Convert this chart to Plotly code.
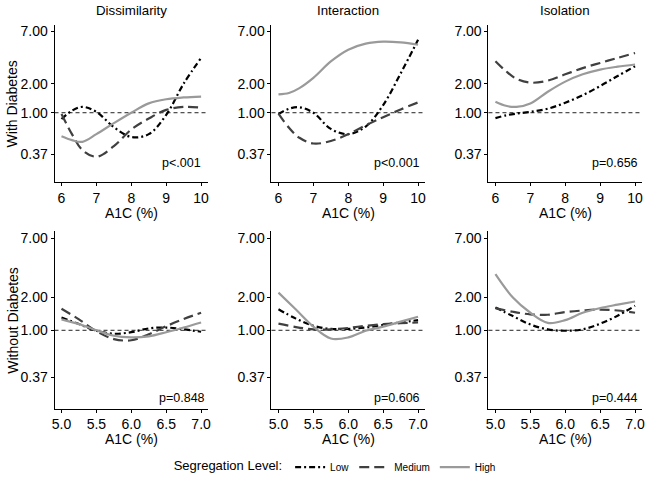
import plotly.graph_objects as go

# ---------------- data ----------------
panels = ["Dissimilarity", "Interaction", "Isolation"]
rows = ["With Diabetes", "Without Diabetes"]
levels = ["Low", "Medium", "High"]

x_with = [6.0, 6.3, 6.6, 7.0, 7.5, 8.0, 8.5, 9.0, 9.5, 10.0]
x_without = [5.0, 5.25, 5.5, 5.75, 6.0, 6.25, 6.5, 6.75, 7.0]

# With diabetes
dis_with_low = [0.86, 1.05, 1.15, 1.02, 0.71, 0.56, 0.60, 0.95, 2.00, 3.70]
dis_with_medium = [0.97, 0.60, 0.41, 0.35, 0.45, 0.67, 0.87, 1.07, 1.15, 1.13]
dis_with_high = [0.57, 0.52, 0.50, 0.60, 0.78, 1.00, 1.25, 1.38, 1.44, 1.47]

int_with_low = [0.97, 1.10, 1.14, 1.00, 0.68, 0.60, 0.72, 1.20, 2.55, 5.70]
int_with_medium = [0.98, 0.70, 0.55, 0.48, 0.51, 0.60, 0.74, 0.90, 1.08, 1.28]
int_with_high = [1.55, 1.60, 1.80, 2.30, 3.40, 4.50, 5.20, 5.45, 5.35, 5.06]

iso_with_low = [0.88, 0.94, 0.98, 1.02, 1.10, 1.27, 1.52, 1.89, 2.40, 3.03]
iso_with_medium = [3.42, 2.70, 2.25, 2.05, 2.15, 2.50, 2.90, 3.28, 3.70, 4.16]
iso_with_high = [1.30, 1.18, 1.15, 1.25, 1.65, 2.10, 2.50, 2.80, 3.00, 3.16]

# Without diabetes
dis_without_low = [1.31, 1.14, 0.99, 0.93, 0.96, 1.04, 1.06, 1.02, 0.97]
dis_without_medium = [1.58, 1.26, 0.98, 0.83, 0.81, 0.92, 1.09, 1.27, 1.45]
dis_without_high = [1.26, 1.14, 1.00, 0.89, 0.86, 0.88, 0.96, 1.06, 1.18]

int_without_low = [1.56, 1.28, 1.10, 1.03, 1.03, 1.06, 1.12, 1.18, 1.24]
int_without_medium = [1.15, 1.07, 1.02, 1.02, 1.05, 1.10, 1.14, 1.16, 1.18]
int_without_high = [2.22, 1.55, 1.08, 0.84, 0.86, 0.99, 1.08, 1.20, 1.33]

iso_without_low = [1.62, 1.35, 1.13, 1.02, 0.99, 1.02, 1.15, 1.36, 1.68]
iso_without_medium = [1.60, 1.48, 1.40, 1.39, 1.47, 1.52, 1.55, 1.52, 1.45]
iso_without_high = [3.28, 2.00, 1.45, 1.17, 1.24, 1.45, 1.60, 1.72, 1.84]

p_with = ["p<.001", "p<0.001", "p=0.656"]
p_without = ["p=0.848", "p=0.606", "p=0.444"]

y_tickvals = [0.37, 1.00, 2.00, 7.00]
y_ticktext = ["0.37", "1.00", "2.00", "7.00"]
x_ticks_with = [6, 7, 8, 9, 10]
x_ticks_without = [5.0, 5.5, 6.0, 6.5, 7.0]
x_ticktext_without = ["5.0", "5.5", "6.0", "6.5", "7.0"]

# ---------------- layout / style ----------------
W, H = 648, 482
FONT = "Liberation Sans, Arial, Helvetica, sans-serif"
styles = {
    "Low": dict(color="#000000", dash="6px,3px,2px,3px", width=2.2),
    "Medium": dict(color="#404040", dash="10px,5px", width=2.2),
    "High": dict(color="#9a9a9a", dash="solid", width=2.2),
}

col_px = [(52, 207), (271, 426), (490, 645)]
row_px = [(23, 182.5), (232, 411.7)]
xtitle_px = [214, 443]

series = {
    (0, 0): (x_with, [dis_with_low, dis_with_medium, dis_with_high]),
    (0, 1): (x_with, [int_with_low, int_with_medium, int_with_high]),
    (0, 2): (x_with, [iso_with_low, iso_with_medium, iso_with_high]),
    (1, 0): (x_without, [dis_without_low, dis_without_medium, dis_without_high]),
    (1, 1): (x_without, [int_without_low, int_without_medium, int_without_high]),
    (1, 2): (x_without, [iso_without_low, iso_without_medium, iso_without_high]),
}
p_texts = {(0, c): p_with[c] for c in range(3)}
p_texts.update({(1, c): p_without[c] for c in range(3)})
p_xpos = {(0, 0): 0.966, (0, 1): 0.98, (0, 2): 0.985,
          (1, 0): 0.99, (1, 1): 0.98, (1, 2): 0.985}
p_ypos = {0: 0.12, 1: 0.062}

fig = go.Figure()
layout = dict(
    width=W, height=H, margin=dict(l=0, r=0, t=0, b=0),
    paper_bgcolor="white", plot_bgcolor="white",
    font=dict(family=FONT, color="#000000", size=14),
    showlegend=True,
)
annotations = []
shapes = []

idx = 0
for r in range(2):
    for c in range(3):
        idx += 1
        xa = "xaxis" if idx == 1 else f"xaxis{idx}"
        ya = "yaxis" if idx == 1 else f"yaxis{idx}"
        xr = "x" if idx == 1 else f"x{idx}"
        yr = "y" if idx == 1 else f"y{idx}"
        x0, x1 = col_px[c]
        y0, y1 = row_px[r]
        if r == 0:
            xrange = [5.8, 10.2]
            xt = dict(tickvals=x_ticks_with, ticktext=[str(v) for v in x_ticks_with])
        else:
            xrange = [4.9, 7.1]
            xt = dict(tickvals=x_ticks_without, ticktext=x_ticktext_without)
        layout[xa] = dict(
            domain=[x0 / W, x1 / W], anchor=yr, range=xrange,
            showline=True, linecolor="black", linewidth=1,
            ticks="outside", ticklen=3, tickwidth=1, tickcolor="black",
            tickfont=dict(size=14, color="black"), showgrid=False, zeroline=False,
            **xt,
        )
        layout[ya] = dict(
            domain=[1 - y1 / H, 1 - y0 / H], anchor=xr, type="log",
            range=[-0.72, 0.912],
            tickvals=y_tickvals, ticktext=y_ticktext,
            showline=True, linecolor="black", linewidth=1,
            ticks="outside", ticklen=3, tickwidth=1, tickcolor="black",
            tickfont=dict(size=14, color="black"), showgrid=False, zeroline=False,
        )
        xs, ys_list = series[(r, c)]
        for lev, ys in zip(levels, ys_list):
            st = styles[lev]
            fig.add_trace(go.Scatter(
                x=xs, y=ys, mode="lines", name=lev, legendgroup=lev,
                showlegend=(idx == 1),
                line=dict(color=st["color"], dash=st["dash"], width=st["width"],
                          shape="spline", smoothing=1.0),
                xaxis=xr, yaxis=yr, hoverinfo="skip",
            ))
        shapes.append(dict(
            type="line", xref=f"{xr} domain", yref=yr, x0=0, x1=1, y0=1, y1=1,
            line=dict(color="#222222", width=1, dash="4px,3px"), layer="below",
        ))
        annotations.append(dict(
            text=p_texts[(r, c)], xref=f"{xr} domain", yref=f"{yr} domain",
            x=p_xpos[(r, c)], y=p_ypos[r], xanchor="right", yanchor="middle",
            showarrow=False, font=dict(size=12.5, color="black"),
        ))
        # x axis title
        annotations.append(dict(
            text="A1C (%)", xref="paper", yref="paper",
            x=((x0 + x1) / 2) / W, y=1 - xtitle_px[r] / H,
            xanchor="center", yanchor="middle", showarrow=False,
            font=dict(size=14, color="black"),
        ))

# column titles
for c, name in enumerate(panels):
    x0, x1 = col_px[c]
    annotations.append(dict(
        text=name, xref="paper", yref="paper", x=((x0 + x1) / 2) / W, y=1 - 9 / H,
        xanchor="center", yanchor="middle", showarrow=False,
        font=dict(size=13.3, color="black"),
    ))
# row titles
for r, name in enumerate(rows):
    y0, y1 = row_px[r]
    annotations.append(dict(
        text=name, xref="paper", yref="paper", x=10 / W, y=1 - ((y0 + y1) / 2) / H,
        xanchor="center", yanchor="middle", textangle=-90, showarrow=False,
        font=dict(size=14, color="black"),
    ))

layout["annotations"] = annotations
layout["shapes"] = shapes
layout["legend"] = dict(
    orientation="h", x=0.519, xanchor="center", y=1 - 471 / H, yanchor="middle",
    title=dict(text="Segregation Level:", side="left", font=dict(size=13, color="black")),
    font=dict(size=10, color="black"), itemwidth=30, tracegroupgap=0,
    bgcolor="rgba(0,0,0,0)",
)
fig.update_layout(**layout)
fig.write_html(
    "out.html",
    config={"displayModeBar": False},
    post_script="document.body.style.margin='0';document.body.style.overflow='hidden';",
)
